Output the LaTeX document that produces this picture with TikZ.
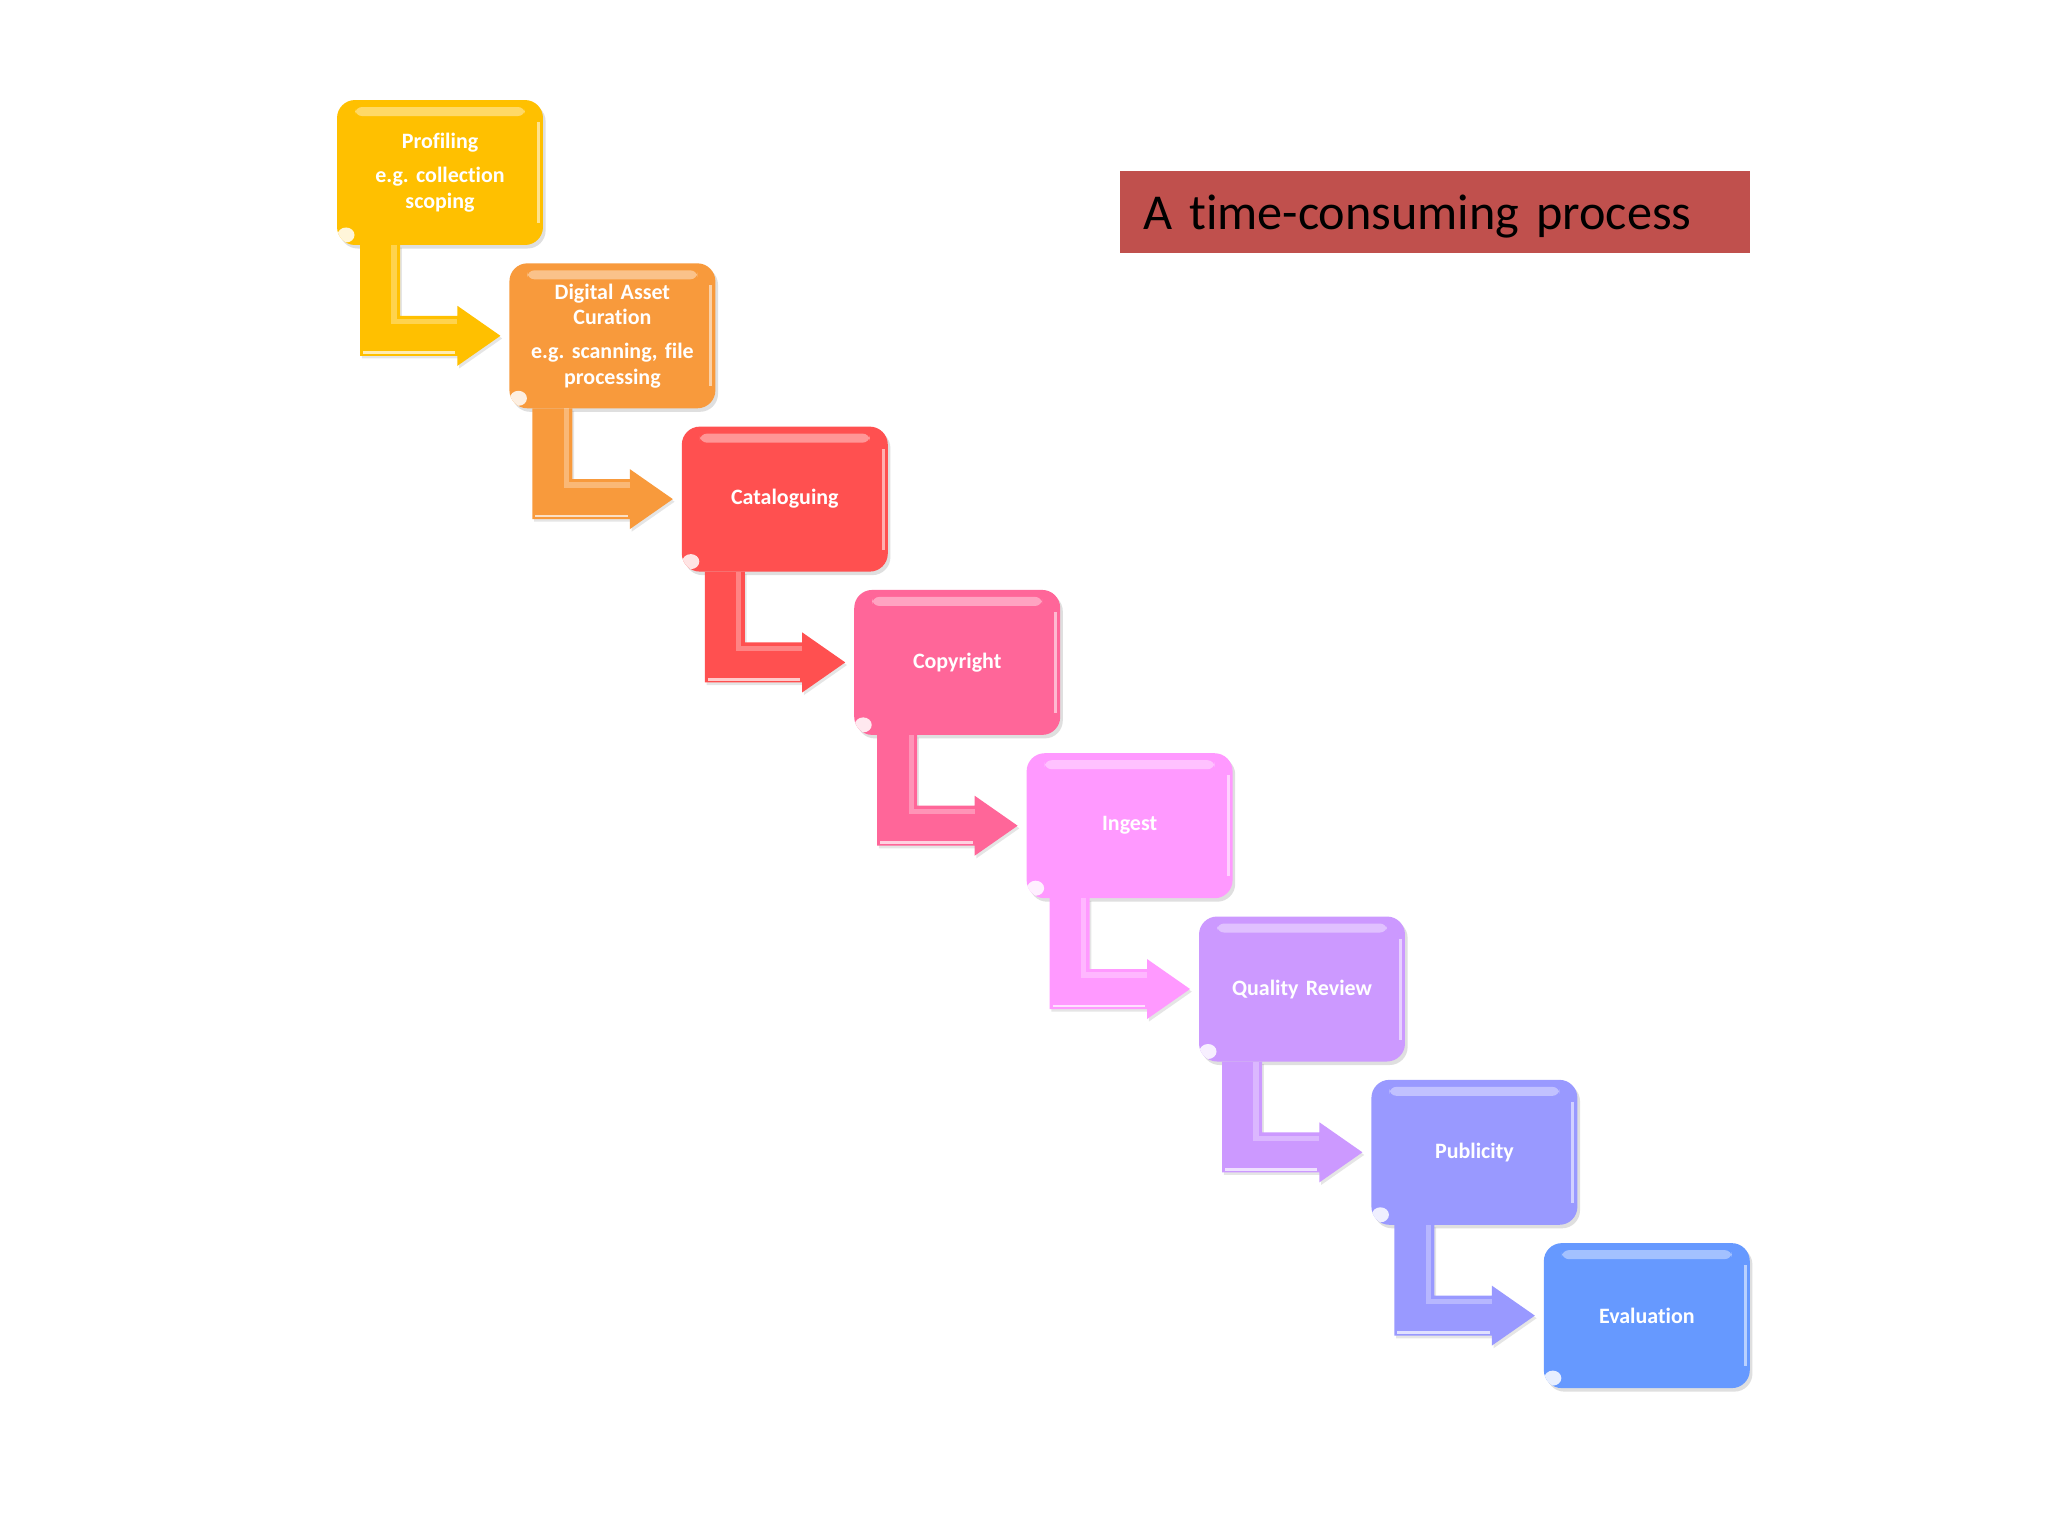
\documentclass[tikz,border=0pt]{standalone}
\usepackage{fontspec}
\setmainfont{Carlito}[Ligatures=NoCommon]
\usepackage{xcolor}
\definecolor{profgold}{HTML}{FFC000}
\definecolor{curorange}{HTML}{F89A3C}
\definecolor{catred}{HTML}{FF5050}
\definecolor{copypink}{HTML}{FF6699}
\definecolor{ingestpink}{HTML}{FF99FF}
\definecolor{qualviolet}{HTML}{CC99FF}
\definecolor{pubblue}{HTML}{9999FF}
\definecolor{evalblue}{HTML}{6699FF}
\definecolor{titlered}{HTML}{C0504D}
\usepackage{tikz}
\usetikzlibrary{calc,shadows}
\frenchspacing

% bent arrow from the foot of one step to the side of the next
\newcommand{\bentarrow}[3]{%
  \fill[#3, drop shadow={shadow xshift=1pt, shadow yshift=-1.5pt, opacity=0.2}]
    ($(#1.south west)+(23,0)$) -- ($(#1.south west)+(63,0)$)
    |- ($(#2.west)+(-52,-20)$) -- ++(0,-10) -- ($(#2.west)+(-9,0)$)
    -- ($(#2.west)+(-52,30)$) -- ++(0,-10) -| ($(#1.south west)+(23,0)$) -- cycle;
  \draw[white, opacity=.3, line width=3pt] let \p1=($(#1.south west)+(57,0)$), \p2=($(#2.west)+(-52,-14)$) in
    (\x1,\y1) -- (\x1,\y2) -- (\x2,\y2);
  \draw[white, opacity=.7, line width=1.5pt] let \p1=($(#1.south west)+(26,0)$), \p2=($(#2.west)+(-54,17)$) in
    (\x1,\y2) -- (\x2,\y2);
}

\begin{document}
\begin{tikzpicture}[x=0.02cm, y=-0.02cm,
    stepbox/.style={rectangle, rounded corners=0.36cm, minimum width=4.12cm, minimum height=2.9cm,
      text width=3.8cm, align=center, text=white, inner sep=0pt, outer sep=0pt,
      font=\fontsize{12.5}{14.5}\selectfont\bfseries,
      drop shadow={shadow xshift=1.5pt, shadow yshift=-2pt, opacity=0.25},
      path picture={
        \fill[white, opacity=.4, rounded corners=4pt] ($(path picture bounding box.north west)+(18,7)$) rectangle ($(path picture bounding box.north east)+(-18,16)$);
        \fill[white, opacity=.55, sharp corners] ($(path picture bounding box.north east)+(-6,22)$) rectangle ($(path picture bounding box.south east)+(-3,-22)$);
        \fill[white, opacity=.85] ($(path picture bounding box.south west)+(9,-10)$) ellipse [x radius=0.17cm, y radius=0.15cm];
      }},
    titlebox/.style={rectangle, anchor=north west, fill=titlered, minimum width=12.6cm, minimum height=1.64cm,
      text width=11.68cm, inner xsep=0.46cm, inner ysep=0pt, align=left, text=black,
      text height=0.88cm, text depth=0.2cm, font=\fontsize{28.6}{34}\selectfont}]
  \fill[white] (0,0) rectangle (2048,1536);
  \useasboundingbox (0,0) rectangle (2048,1536);

  % the eight steps
  \node[stepbox, fill=profgold] (profiling) at (440,172.5) {Profiling\\[5pt]e.g. collection\\scoping};
  \node[stepbox, fill=curorange] (curation) at (612.4,335.8) {Digital Asset\\Curation\\[5pt]e.g. scanning, file\\processing};
  \node[stepbox, fill=catred] (cataloguing) at (784.8,499.1) {Cataloguing};
  \node[stepbox, fill=copypink] (copyright) at (957.2,662.4) {Copyright};
  \node[stepbox, fill=ingestpink] (ingest) at (1129.6,825.7) {Ingest};
  \node[stepbox, fill=qualviolet] (quality) at (1302,989) {Quality Review};
  \node[stepbox, fill=pubblue] (publicity) at (1474.4,1152.3) {Publicity};
  \node[stepbox, fill=evalblue] (evaluation) at (1646.8,1315.6) {Evaluation};

  % arrows between steps
  \bentarrow{profiling}{curation}{profgold}
  \bentarrow{curation}{cataloguing}{curorange}
  \bentarrow{cataloguing}{copyright}{catred}
  \bentarrow{copyright}{ingest}{copypink}
  \bentarrow{ingest}{quality}{ingestpink}
  \bentarrow{quality}{publicity}{qualviolet}
  \bentarrow{publicity}{evaluation}{pubblue}

  \node[titlebox] (title) at (1120,171) {A time-consuming process};
\end{tikzpicture}
\end{document}
